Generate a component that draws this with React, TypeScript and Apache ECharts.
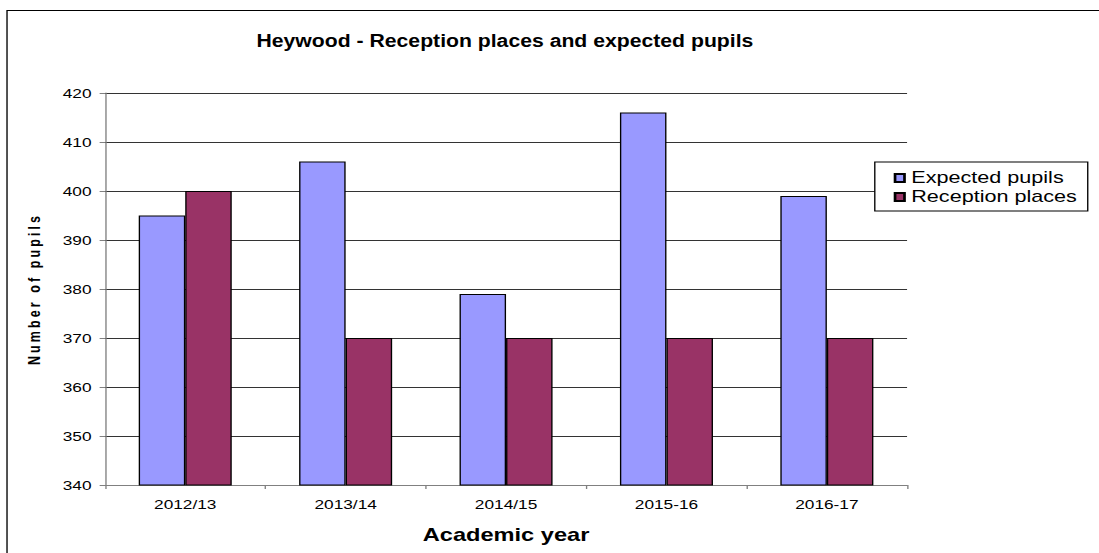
import React, { useEffect, useRef } from "react";
import * as echarts from "echarts";

const categories = ["2012/13", "2013/14", "2014/15", "2015-16", "2016-17"];
const expectedPupils = [395, 406, 379, 416, 399];
const receptionPlaces = [400, 370, 370, 370, 370];
const seriesNames = ["Expected pupils", "Reception places"];
const titleText = "Heywood - Reception places and expected pupils";
const xAxisName = "Academic year";
const yAxisName = "Number of pupils";
const yMin = 340;
const yMax = 420;
const yStep = 10;

const S = 1.35;
const W = 1099 / S;
const H = 553;
const FONT = '"Liberation Sans", Arial, Helvetica, sans-serif';

export default function App() {
  const ref = useRef<HTMLDivElement>(null);
  useEffect(() => {
    if (!ref.current) return;
    const chart = echarts.init(ref.current, null, { renderer: "svg" });
    chart.setOption({
      animation: false,
      backgroundColor: "#ffffff",
      textStyle: { fontFamily: FONT },
      graphic: [
        {
          type: "rect",
          silent: true,
          z: 100,
          shape: { x: 5.2, y: 10.5, width: 2000, height: 1000 },
          style: { fill: "none", stroke: "#000", lineWidth: 1 },
        },
        {
          type: "text",
          x: 374,
          y: 40.5,
          scaleY: 1.14,
          style: {
            text: titleText,
            fontFamily: FONT,
            fontWeight: "bold",
            fontSize: 15.7,
            fill: "#000",
            textAlign: "center",
            textVerticalAlign: "middle",
          },
        },
      ],
      legend: {
        orient: "vertical",
        left: 648,
        top: 162,
        padding: [8, 8, 6, 14],
        itemGap: 3,
        itemWidth: 7,
        itemHeight: 8,
        icon: "rect",
        borderColor: "#000",
        borderWidth: 1,
        backgroundColor: "#fff",
        data: seriesNames,
        textStyle: { fontFamily: FONT, fontSize: 16, color: "#000" },
      },
      grid: { left: 77.8, top: 93, width: 594.1, height: 392 },
      xAxis: {
        type: "category",
        data: categories,
        name: xAxisName,
        nameLocation: "middle",
        nameGap: 41,
        nameTextStyle: { fontFamily: FONT, fontSize: 17.5, fontWeight: "bold", color: "#000" },
        axisLine: { lineStyle: { color: "#808080", width: 1 } },
        axisTick: { show: true, length: 4, lineStyle: { color: "#808080" } },
        axisLabel: { interval: 0, fontFamily: FONT, fontSize: 12.8, color: "#000", margin: 13 },
        splitLine: { show: false },
      },
      yAxis: {
        type: "value",
        min: yMin,
        max: yMax,
        interval: yStep,
        name: yAxisName,
        nameLocation: "middle",
        nameGap: 46,
        nameTextStyle: { fontFamily: FONT, fontSize: 12.5, fontWeight: "bold", color: "#000" },
        axisLine: { show: true, lineStyle: { color: "#808080", width: 1 } },
        axisTick: { show: true, length: 4, lineStyle: { color: "#808080" } },
        axisLabel: { fontFamily: FONT, fontSize: 12.8, color: "#000", margin: 10 },
        splitLine: { show: true, lineStyle: { color: "#333", width: 1 } },
      },
      series: [
        {
          name: seriesNames[0],
          type: "bar",
          data: expectedPupils,
          barGap: "0%",
          barCategoryGap: "42%",
          itemStyle: { color: "#9999FF", borderColor: "#000", borderWidth: 1 },
        },
        {
          name: seriesNames[1],
          type: "bar",
          data: receptionPlaces,
          barGap: "0%",
          barCategoryGap: "42%",
          itemStyle: { color: "#993366", borderColor: "#000", borderWidth: 1 },
        },
      ],
    });
    const applySpacing = () => {
      const texts = ref.current ? ref.current.querySelectorAll("text") : [];
      texts.forEach((t: any) => {
        if (t.textContent === yAxisName) {
          t.setAttribute("letter-spacing", "3.1");
          t.style.letterSpacing = "3.1px";
        }
      });
    };
    chart.on("finished", applySpacing);
    const timer = setTimeout(applySpacing, 300);
    return () => {
      clearTimeout(timer);
      chart.dispose();
    };
  }, []);
  return (
    <div
      ref={ref}
      style={{
        position: "fixed",
        left: 0,
        top: 0,
        width: W,
        height: H,
        transform: `scaleX(${S})`,
        transformOrigin: "0 0",
        background: "#fff",
      }}
    />
  );
}
